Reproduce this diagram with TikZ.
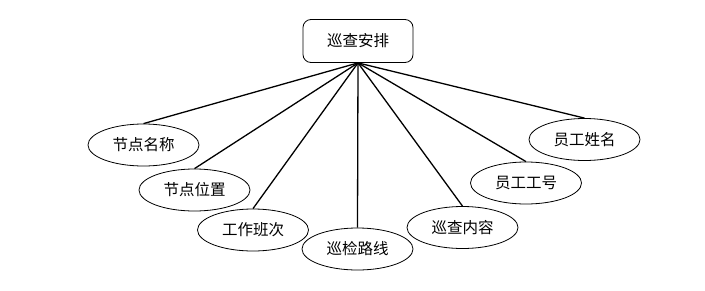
\documentclass[tikz,border=0pt]{standalone}
\usepackage{fontspec}
\newfontfamily\cjk{Noto Sans CJK SC}
\usetikzlibrary{shapes.geometric}
\begin{document}
\begin{tikzpicture}[x=1pt,y=-1pt,
  attr/.style={ellipse,draw,line width=0.8pt,minimum width=111pt,minimum height=42pt,inner sep=0pt,font=\cjk\fontsize{15.5}{18}\selectfont},
  rootbox/.style={rectangle,rounded corners=8pt,draw,line width=0.8pt,minimum width=110pt,minimum height=43pt,inner sep=0pt,font=\cjk\fontsize{15.5}{18}\selectfont},
  link/.style={line width=1.3pt}]
\useasboundingbox (0,0) rectangle (705,290);
\node[rootbox] (root) at (358,41) {巡查安排};
\node[attr] (a1) at (143.5,145) {节点名称};
\node[attr] (a2) at (194.5,190) {节点位置};
\node[attr] (a3) at (253,230) {工作班次};
\node[attr] (a4) at (357.5,249) {巡检路线};
\node[attr] (a5) at (462.5,227.5) {巡查内容};
\node[attr] (a6) at (526,183) {员工工号};
\node[attr] (a7) at (584.5,139.5) {员工姓名};
\foreach \n in {a1,a2,a3,a4,a5,a6,a7}
  \draw[link] (root.south) -- (\n.north);
\end{tikzpicture}
\end{document}
